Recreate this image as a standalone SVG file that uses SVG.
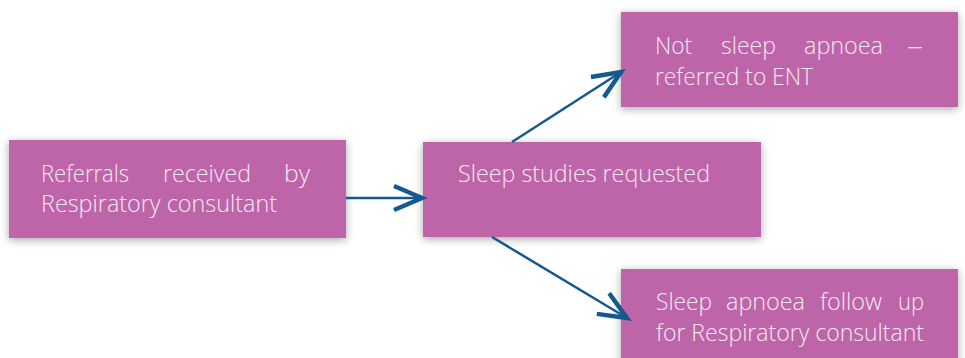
<svg xmlns="http://www.w3.org/2000/svg" width="965" height="358" viewBox="0 0 965 358">
<style>
.box{fill:#BD65A8;filter:url(#sh)}
.t{font-family:"Open Sans","Liberation Sans",sans-serif;font-weight:300;font-size:24px;fill:#F6E8F2}
.c{fill:none;stroke:#145A8E;stroke-width:2.5;marker-end:url(#ah)}
</style>
<defs>
<filter id="sh" x="-10%" y="-20%" width="120%" height="150%">
<feDropShadow dx="0" dy="2" stdDeviation="4" flood-color="#000" flood-opacity="0.35"/>
</filter>
<marker id="ah" markerUnits="userSpaceOnUse" markerWidth="40" markerHeight="40" viewBox="-34 -20 40 40" refX="0" refY="0" orient="auto" overflow="visible">
<path d="M -28 -12 L 0 0 L -28 12" fill="none" stroke="#145A8E" stroke-width="4.5" stroke-linejoin="miter"/>
</marker>
</defs>
<g id="n1">
<rect class="box" x="9" y="140" width="337" height="98"/>
<text class="t" lengthAdjust="spacingAndGlyphs"><tspan x="41" y="182" textLength="88" lengthAdjust="spacingAndGlyphs">Referrals</tspan><tspan x="163" y="182" textLength="88" lengthAdjust="spacingAndGlyphs">received</tspan><tspan x="284" y="182" textLength="26" lengthAdjust="spacingAndGlyphs">by</tspan><tspan x="41" y="212" textLength="236" lengthAdjust="spacingAndGlyphs">Respiratory consultant</tspan></text>
</g>
<g id="n2">
<rect class="box" x="423" y="142" width="338" height="95"/>
<text class="t" x="458" y="182" textLength="252" lengthAdjust="spacingAndGlyphs">Sleep studies requested</text>
</g>
<g id="n3">
<rect class="box" x="621" y="12" width="337" height="95"/>
<text class="t"><tspan x="655" y="54" textLength="37" lengthAdjust="spacingAndGlyphs">Not</tspan><tspan x="721" y="54" textLength="55" lengthAdjust="spacingAndGlyphs">sleep</tspan><tspan x="804" y="54" textLength="79" lengthAdjust="spacingAndGlyphs">apnoea</tspan><tspan x="907" y="54" textLength="16" lengthAdjust="spacingAndGlyphs">–</tspan><tspan x="655" y="85" textLength="158" lengthAdjust="spacingAndGlyphs">referred to ENT</tspan></text>
</g>
<g id="n4">
<rect class="box" x="621" y="269" width="337" height="95"/>
<text class="t"><tspan x="656" y="310" textLength="56" lengthAdjust="spacingAndGlyphs">Sleep</tspan><tspan x="726" y="310" textLength="79" lengthAdjust="spacingAndGlyphs">apnoea</tspan><tspan x="820" y="310" textLength="62" lengthAdjust="spacingAndGlyphs">follow</tspan><tspan x="898" y="310" textLength="26" lengthAdjust="spacingAndGlyphs">up</tspan><tspan x="656" y="341" textLength="268" lengthAdjust="spacingAndGlyphs">for Respiratory consultant</tspan></text>
</g>
<g id="connectors">
<path class="c" d="M 346 198 L 422 198"/>
<path class="c" d="M 512 142 L 621 72"/>
<path class="c" d="M 492 237 L 627 318"/>
</g>
</svg>
